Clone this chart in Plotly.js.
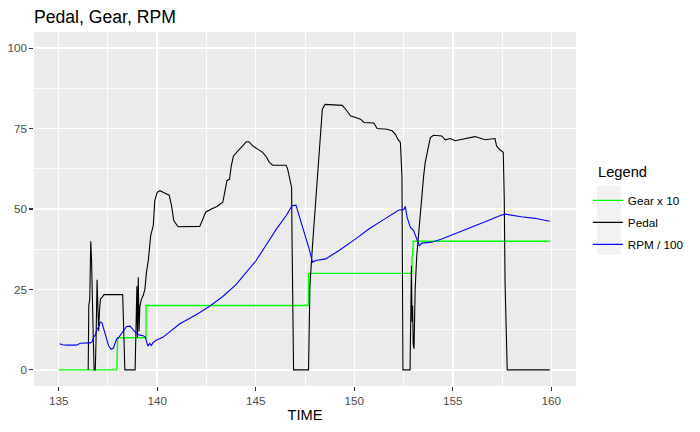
<!DOCTYPE html>
<html>
<head>
<meta charset="utf-8">
<script src="https://cdn.plot.ly/plotly-3.0.1.min.js"></script>
<style>html,body{margin:0;padding:0;background:#fff;}#chart{width:700px;height:432px;}</style>
</head>
<body>
<div id="chart"></div>
<script>
// Gear x 10
var gearTime = [135.0, 137.95, 138.0, 139.43, 139.44, 147.67, 147.69, 152.92, 152.93, 152.97, 152.99, 159.92];
var gearVal  = [0, 0, 10, 10, 20, 20, 30, 30, 35, 36, 40, 40];

// Pedal
var pedalTime = [136.50,136.53,136.58,136.63,136.67,136.70,136.75,136.80,136.86,136.90,136.95,136.99,137.03,137.07,137.12,137.20,137.30,
  138.25,138.30,138.36,138.88,138.92,138.97,139.00,139.04,139.08,139.12,139.20,139.29,139.38,139.45,139.55,139.67,139.80,139.88,
  140.00,140.14,140.30,140.61,140.73,140.84,141.06,141.57,141.73,142.16,142.32,142.46,142.75,143.03,143.33,143.47,143.54,143.67,
  143.76,143.87,144.01,144.18,144.34,144.52,144.65,144.85,145.10,145.35,145.56,145.69,145.86,146.54,146.62,146.75,146.82,146.84,
  146.87,146.92,147.68,147.70,147.75,147.88,148.05,148.18,148.30,148.38,148.52,149.39,149.56,149.82,150.07,150.32,150.49,150.99,
  151.16,151.67,151.92,152.09,152.21,152.34,152.42,152.45,152.47,152.83,152.85,152.90,152.93,152.96,152.99,153.03,153.06,153.09,
  153.17,153.23,153.35,153.43,153.52,153.60,153.74,153.86,154.02,154.44,154.62,154.87,155.12,155.63,156.13,156.64,157.14,157.22,
  157.39,157.56,157.61,157.65,157.73,157.76,159.92];
var pedalVal = [0,20,22,40,34,20,12,0,0,10,28,20,12,18,22,22.5,23.4,
  23.4,12,0,0,14,26,10,28.8,12,19.6,22,23.1,25.2,30,34.0,41.7,44.8,52.6,
  55.2,55.7,55.2,54.3,51.0,46.4,44.5,44.6,44.5,44.6,46.9,49.0,50.0,50.8,52.1,57.2,58.8,59.3,
  63.4,66.5,67.6,68.6,69.6,70.9,70.9,69.6,68.6,67.6,66.0,64.5,63.6,63.6,62.4,59.3,56.7,42.0,
  14.9,0,0,15.9,26.2,38.6,53.1,63.4,75.8,81.0,82.5,82.2,81.0,78.9,78.4,77.9,76.9,76.7,
  75.0,74.8,74.3,73.2,71.7,70.7,60,30,0,0,13.3,32.4,15,20,8,6.6,15.9,25.2,
  35.5,40,50.0,54.1,60.3,64.5,68.6,72.2,72.9,72.7,71.5,71.9,71.2,71.9,72.5,71.5,71.9,69.6,
  68.4,67.6,53.1,27.3,5.6,0,0];

// RPM / 100
var rpmTime = [135.05,135.2,135.4,135.9,136.1,136.4,136.6,136.7,136.77,136.86,136.95,137.03,137.11,137.2,137.28,137.36,137.45,137.53,
  137.66,137.78,137.86,137.95,138.06,138.2,138.33,138.45,138.62,138.7,138.83,138.95,139.12,139.29,139.4,139.45,139.53,139.62,139.7,
  139.78,139.95,140.12,140.3,141.15,142.0,142.66,143.33,144.0,144.52,145.02,145.53,146.03,146.54,146.84,147.04,147.37,147.71,
  147.88,148.05,148.55,149.23,150.07,150.74,151.41,152.09,152.26,152.51,152.59,152.68,152.85,153.01,153.18,153.3,153.44,153.94,
  154.44,155.12,156.13,156.8,157.47,157.65,158.48,159.16,159.92];
var rpmVal = [8.1,7.8,7.7,7.7,8.3,8.4,8.4,8.7,10.2,10.8,12.8,13.3,14.9,14.6,12.8,10.7,9.2,7.6,
  6.4,6.8,8.2,9.7,10.2,11.3,12.3,13.5,13.6,13.1,12.3,11.3,10.8,10.6,10.2,8.7,7.4,8.2,7.6,
  8.4,9.2,9.7,10.2,14.35,17.2,19.8,22.8,26.5,30.2,34.0,38.8,43.6,47.9,51.0,51.2,44.8,37.6,
  33.5,34.0,34.5,37.1,40.7,43.8,46.4,49.0,49.7,49.8,50.8,47.4,44.3,43.3,40.7,38.6,39.4,39.7,
  40.7,42.3,44.6,46.4,48.1,48.4,47.6,47.1,46.2];

var xTicks = [135, 140, 145, 150, 155, 160];
var yTicks = [0, 25, 50, 75, 100];

var FONT = '"Liberation Sans", Arial, sans-serif';

var traces = [
  {x: gearTime, y: gearVal, type: 'scatter', mode: 'lines', name: 'Gear x 10', legendgroup: 'g',
   line: {color: '#00FF00', width: 1.4}},
  {x: pedalTime, y: pedalVal, type: 'scatter', mode: 'lines', name: 'Pedal', legendgroup: 'p',
   line: {color: '#000000', width: 1.1}},
  {x: rpmTime, y: rpmVal, type: 'scatter', mode: 'lines', name: 'RPM / 100', legendgroup: 'r',
   line: {color: '#0000FF', width: 1.1}}
];

var PH = 386.3, PT = 32, PL = 34, PW = 543;
function py(p) { return (PH - p) / (PH - PT); }
function px(p) { return (p - PL) / PW; }

var layout = {
  width: 700, height: 432,
  margin: {l: 34, r: 123, t: 32, b: 45.7, pad: 0},
  paper_bgcolor: '#FFFFFF',
  plot_bgcolor: '#EBEBEB',
  font: {family: FONT, color: '#000000'},
  title: {text: 'Pedal, Gear, RPM', font: {family: FONT, size: 17.6, color: '#000000'},
          xref: 'paper', x: 0, xanchor: 'left', yref: 'container', y: 1 - 17/432, yanchor: 'middle'},
  xaxis: {
    range: [133.75, 161.25], tickmode: 'array', tickvals: xTicks, ticktext: xTicks.map(String),
    showgrid: true, gridcolor: '#FFFFFF', gridwidth: 1.5, zeroline: false, showline: false,
    ticks: 'outside', ticklen: 3.7, tickwidth: 1.1, tickcolor: '#333333',
    tickfont: {family: FONT, size: 11.7, color: '#4D4D4D'},
    minor: {tickmode: 'linear', tick0: 135, dtick: 2.5, showgrid: true, gridcolor: '#FFFFFF', gridwidth: 0.8, ticks: ''},
    title: {text: 'TIME', font: {family: FONT, size: 14.7, color: '#000000'}, standoff: 3}
  },
  yaxis: {
    range: [-5, 105], tickmode: 'array', tickvals: yTicks, ticktext: yTicks.map(String),
    showgrid: true, gridcolor: '#FFFFFF', gridwidth: 1.5, zeroline: false, showline: false,
    ticks: 'outside', ticklen: 3.7, tickwidth: 1.1, tickcolor: '#333333',
    tickfont: {family: FONT, size: 11.7, color: '#4D4D4D'},
    minor: {tickmode: 'linear', tick0: 0, dtick: 12.5, showgrid: true, gridcolor: '#FFFFFF', gridwidth: 0.8, ticks: ''}
  },
  showlegend: true,
  legend: {
    x: 1.02, xanchor: 'left', y: py(186), yanchor: 'top',
    bgcolor: 'rgba(0,0,0,0)', borderwidth: 0,
    font: {family: FONT, size: 11.7, color: '#000000'},
    traceorder: 'grouped', tracegroupgap: 3, itemwidth: 30
  },
  annotations: [
    {text: 'Legend', xref: 'paper', yref: 'paper', x: px(597), y: py(172), xanchor: 'left', yanchor: 'middle',
     showarrow: false, font: {family: FONT, size: 14.7, color: '#000000'}}
  ],
  shapes: [
    {type: 'rect', xref: 'paper', yref: 'paper', layer: 'below',
     x0: px(598), x1: px(622), y0: py(255), y1: py(186),
     fillcolor: '#F2F2F2', line: {width: 0}}
  ]
};

Plotly.newPlot('chart', traces, layout, {displayModeBar: false, staticPlot: true});
</script>
</body>
</html>
